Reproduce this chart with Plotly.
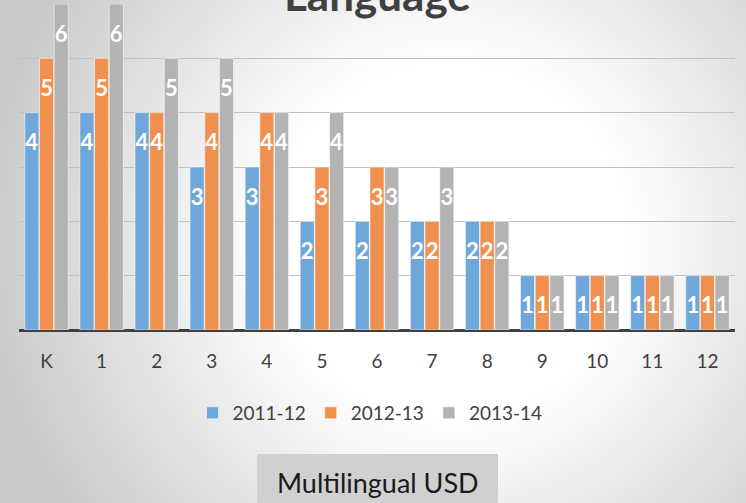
import base64
import plotly.graph_objects as go

# chart data
grades = ["K", "1", "2", "3", "4", "5", "6", "7", "8", "9", "10", "11", "12"]
y2011_12 = [4, 4, 4, 3, 3, 2, 2, 2, 2, 1, 1, 1, 1]
y2012_13 = [5, 5, 4, 4, 4, 3, 3, 2, 2, 1, 1, 1, 1]
y2013_14 = [6, 6, 5, 5, 4, 4, 3, 3, 2, 1, 1, 1, 1]
series_names = ["2011-12", "2012-13", "2013-14"]
series_colors = ["#70A7DA", "#F0904E", "#B3B3B3"]

W, H = 746, 503
L, R, T, B = 19, 11, 4, 173
plot_w = W - L - R
plot_h = H - T - B

# radial gradient background as an inline svg image
bg_svg = (
    f'<svg xmlns="http://www.w3.org/2000/svg" width="{W}" height="{H}" '
    f'viewBox="0 0 {W} {H}" preserveAspectRatio="none">'
    '<defs><radialGradient id="g" gradientUnits="userSpaceOnUse" '
    'cx="450" cy="240" r="470">'
    '<stop offset="0" stop-color="#ffffff"/>'
    '<stop offset="0.38" stop-color="#ffffff"/>'
    '<stop offset="1" stop-color="#c9c9c9"/>'
    '</radialGradient></defs>'
    f'<rect width="{W}" height="{H}" fill="url(#g)"/></svg>'
)
bg_src = "data:image/svg+xml;base64," + base64.b64encode(bg_svg.encode()).decode()

fig = go.Figure()
for name, vals, color in zip(series_names, [y2011_12, y2012_13, y2013_14], series_colors):
    fig.add_trace(go.Bar(
        x=grades,
        y=vals,
        name=name,
        marker=dict(color=color, line=dict(color="rgba(255,255,255,0.55)", width=1)),
        # small blank first line pushes the label down from the bar top
        text=[f"\u00a0<br><span style='font-size:22px'><b>{v}</b></span>" for v in vals],
        textposition="inside",
        insidetextanchor="end",
        constraintext="none",
        textfont=dict(family="Lato", size=15, color="white"),
        hoverinfo="x+y+name",
    ))


def px_to_paper_y(py):
    return (H - B - py) / plot_h


def px_to_paper_x(px):
    return (px - L) / plot_w


fig.add_shape(
    type="rect", xref="paper", yref="paper",
    x0=px_to_paper_x(257), x1=px_to_paper_x(498),
    y0=px_to_paper_y(454), y1=px_to_paper_y(510),
    fillcolor="#D0D0D0", line=dict(width=0), layer="below",
)
fig.add_annotation(
    text="Multilingual USD", xref="paper", yref="paper",
    x=px_to_paper_x(378), y=px_to_paper_y(482),
    xanchor="center", yanchor="middle", showarrow=False,
    font=dict(family="Lato", size=27, color="#1a1a1a"),
)
fig.add_annotation(
    text="<b>Language</b>", xref="paper", yref="paper",
    x=0.5, y=1, xanchor="center", yanchor="bottom", yshift=-18,
    showarrow=False,
    font=dict(family="Lato", size=44, color="#404040"),
)

fig.update_layout(
    width=W, height=H,
    margin=dict(l=L, r=R, t=T, b=B),
    barmode="group",
    bargap=0.2,
    bargroupgap=0.04,
    paper_bgcolor="#e6e6e6",
    plot_bgcolor="rgba(0,0,0,0)",
    font=dict(family="Lato", color="#404040"),
    showlegend=True,
    legend=dict(
        orientation="h", xanchor="center", x=px_to_paper_x(370),
        yanchor="middle", y=px_to_paper_y(413),
        font=dict(size=19, color="#404040"),
        bgcolor="rgba(0,0,0,0)",
    ),
    images=[dict(
        source=bg_src, xref="paper", yref="paper",
        x=-L / plot_w, y=1 + T / plot_h,
        sizex=W / plot_w, sizey=H / plot_h,
        xanchor="left", yanchor="top",
        sizing="stretch", layer="below",
    )],
    xaxis=dict(
        showgrid=False,
        tickfont=dict(size=19, color="#404040"),
        ticklabelstandoff=18,
        showline=False,
    ),
    yaxis=dict(
        range=[0, 6],
        dtick=1,
        showticklabels=False,
        showgrid=True,
        gridcolor="#C0C0C0",
        gridwidth=1,
        zeroline=True,
        zerolinecolor="#404040",
        zerolinewidth=3,
    ),
)

fig.write_html(
    "out.html",
    config={"displayModeBar": False},
    post_script="document.body.style.margin='0px';",
)
